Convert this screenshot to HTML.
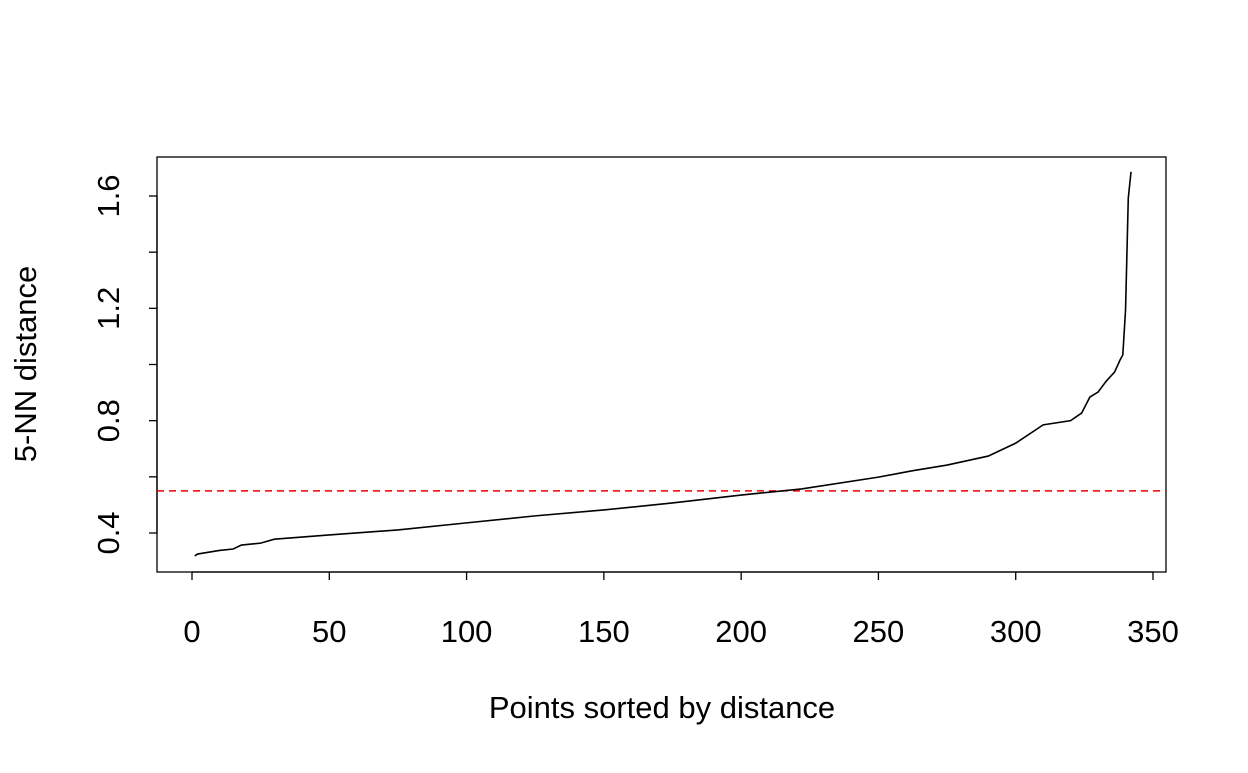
<!DOCTYPE html>
<html><head><meta charset="utf-8"><style>
body{margin:0;background:#fff}
svg text{font-family:"Liberation Sans",Arial,sans-serif;fill:#000}
</style></head><body>
<svg id="chart" width="1248" height="768" xmlns="http://www.w3.org/2000/svg">
<rect width="1248" height="768" fill="#fff"/>
<rect x="157" y="157" width="1009" height="415" fill="none" stroke="#000" stroke-width="1.3"/>
<g id="xaxis"></g>
<g id="yaxis"></g>
<g id="series"></g>
<text x="662" y="718" font-size="31" text-anchor="middle">Points sorted by distance</text>
<text transform="translate(36,364) rotate(-90)" font-size="31" text-anchor="middle">5-NN distance</text>
</svg>
<script>
const idx = [1,2,10,15,18,25,30,50,75,100,125,150,175,200,222,250,262,275,290,300,310,320,324,327,330,333,336,338,339,340,341,342];
const dist = [0.318,0.325,0.338,0.343,0.357,0.364,0.378,0.393,0.411,0.436,0.461,0.482,0.507,0.535,0.557,0.599,0.621,0.642,0.674,0.72,0.785,0.80,0.827,0.884,0.902,0.941,0.973,1.016,1.034,1.194,1.593,1.686];
const xTicks = [0,50,100,150,200,250,300,350];
const yTicks = [0.4,0.6,0.8,1.0,1.2,1.4,1.6];
const yLabels = ["0.4","","0.8","","1.2","","1.6"];
const eps = [0.55];

const NS="http://www.w3.org/2000/svg";
const X=v=>192+v*(961/350);
const Y=v=>533-(v-0.4)*(337/1.2);
function mk(t,a,p){const e=document.createElementNS(NS,t);for(const k in a)e.setAttribute(k,a[k]);p.appendChild(e);return e;}
const xa=document.getElementById('xaxis'), ya=document.getElementById('yaxis'), sr=document.getElementById('series');
mk('line',{x1:X(xTicks[0]),x2:X(xTicks[xTicks.length-1]),y1:572,y2:572,stroke:'#000','stroke-width':1.3},xa);
xTicks.forEach(t=>{
  const l=mk('line',{x1:X(t),x2:X(t),y1:572,y2:580,stroke:'#000','stroke-width':1.3},xa);
  
  
  const tx=mk('text',{x:X(t),y:642,'font-size':31,'text-anchor':'middle'},xa);tx.textContent=t;
  
  
});
mk('line',{x1:157,x2:157,y1:Y(yTicks[0]),y2:Y(yTicks[yTicks.length-1]),stroke:'#000','stroke-width':1.3},ya);
yTicks.forEach((t,i)=>{
  const l=mk('line',{x1:149,x2:157,y1:Y(t),y2:Y(t),stroke:'#000','stroke-width':1.3},ya);
  
  
  if(yLabels[i]){
    const tx=mk('text',{transform:`translate(119,${Y(t)}) rotate(-90)`,'font-size':31,'text-anchor':'middle'},ya);tx.textContent=yLabels[i];
    
    
  }
});
eps.forEach(v=>{
  const l=mk('line',{x1:157,x2:1166,y1:Y(v),y2:Y(v),stroke:'#e00','stroke-width':1.6,'stroke-dasharray':'7,5'},sr);
  
  
});
const p=mk('polyline',{points:idx.map((v,i)=>X(v)+','+Y(dist[i])).join(' '),fill:'none',stroke:'#000','stroke-width':1.6},sr);


</script>
</body></html>
